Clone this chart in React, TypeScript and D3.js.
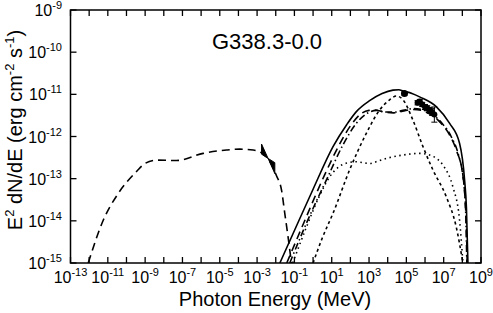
import React from 'react';
import * as d3 from 'd3';

// all values stored as log10(E / MeV) and log10(E^2 dN/dE / erg cm^-2 s^-1)
const syncX = [-12.05, -11.24, -10.44, -9.46, -9.01, -8.39, -7.32, -5.89, -4.64, -3.93, -3.21, -2.5, -1.96, -1.69, -1.52, -1.34, -1.16];
const syncY = [-15, -13.98, -13.35, -12.83, -12.64, -12.56, -12.57, -12.4, -12.32, -12.3, -12.32, -12.48, -12.93, -13.27, -13.81, -14.38, -15];

const totalX = [-1.78, -1.07, 0.0, 1.07, 1.8, 2.32, 3.03, 3.7, 4.28, 4.6, 4.82, 5.3, 5.71, 6.6, 7.32, 7.85, 8.12, 8.22, 8.3];
const totalY = [-15, -14.3, -13.25, -12.24, -11.72, -11.41, -11.15, -10.98, -10.9, -10.89, -10.92, -10.98, -11.06, -11.29, -11.69, -12.16, -13.03, -13.7, -15];

const icX = [-1.41, -0.5, 0.62, 1.4, 2.0, 2.6, 3.0, 3.3, 3.8, 4.3, 4.8, 5.3, 5.8, 6.3, 6.8, 7.3, 7.7, 8.0, 8.15, 8.22, 8.26];
const icY = [-15, -14.05, -12.91, -12.2, -11.75, -11.45, -11.38, -11.37, -11.42, -11.44, -11.4, -11.36, -11.38, -11.48, -11.66, -11.95, -12.35, -12.85, -13.5, -14.2, -15];

const dashDotX = [-1.25, -0.3, 0.8, 1.6, 2.3, 2.9, 3.4, 3.9, 4.4, 4.9, 5.4, 5.9, 6.4, 6.9, 7.4, 7.8, 8.05, 8.18, 8.24];
const dashDotY = [-15, -14.0, -12.95, -12.2, -11.7, -11.45, -11.38, -11.42, -11.42, -11.37, -11.34, -11.37, -11.48, -11.68, -12.0, -12.45, -13.0, -13.8, -15];

const bremsX = [-1.09, -0.4, 0.3, 0.9, 1.3, 1.8, 2.32, 3.03, 3.5, 3.93, 4.82, 5.71, 6.24, 6.96, 7.49, 7.85, 8.03];
const bremsY = [-15, -14.2, -13.45, -12.95, -12.75, -12.63, -12.6, -12.64, -12.58, -12.52, -12.44, -12.4, -12.44, -12.68, -13.19, -13.98, -15];

const pionX = [0.0, 0.5, 1.07, 1.96, 2.86, 3.57, 4.1, 4.46, 4.82, 5.35, 5.89, 6.42, 7.14, 7.67, 8.03];
const pionY = [-15, -14.4, -13.82, -12.79, -11.92, -11.37, -11.13, -11.04, -11.13, -11.61, -12.24, -12.79, -13.43, -14.14, -15];

// X-ray bowtie: left edge, pivot, right edge
const bowX = [-2.76, -2.41, -2.05];
const bowUpper = [-12.18, -12.52, -12.62];
const bowLower = [-12.42, -12.52, -12.88];

// gamma-ray points
const ptX = [4.9, 5.6, 5.72, 5.85, 6.0, 6.12, 6.25, 6.38, 6.5];
const ptY = [-10.98, -11.2, -11.17, -11.24, -11.3, -11.33, -11.38, -11.42, -11.48];
const ptErr = [0.04, 0.05, 0.05, 0.05, 0.06, 0.06, 0.07, 0.08, 0.18];

const xTickExps = d3.range(-13, 10);
const xLabelExps = d3.range(-13, 10, 2);
const yTickExps = d3.range(-15, -8);

const W = 493;
const H = 313;
const left = 70.5, right = 481, top = 10, bottom = 263;
const font = 'Liberation Sans, Arial, Helvetica, sans-serif';

const x = d3.scaleLinear().domain([-13, 9]).range([left, right]);
const y = d3.scaleLinear().domain([-15, -9]).range([bottom, top]);

const line = d3.line<[number, number]>()
  .x(d => x(d[0]))
  .y(d => y(d[1]))
  .curve(d3.curveMonotoneX);

const zip = (a: number[], b: number[]) => a.map((v, i) => [v, b[i]] as [number, number]);

const curves = [
  { xs: syncX, ys: syncY, dash: '8,5' },
  { xs: icX, ys: icY, dash: '8,5' },
  { xs: dashDotX, ys: dashDotY, dash: '7,3,1.5,3' },
  { xs: bremsX, ys: bremsY, dash: '1.5,3.5' },
  { xs: pionX, ys: pionY, dash: '3,3' },
  { xs: totalX, ys: totalY, dash: '' },
];

export default function App() {
  const bowPath = [
    [bowX[0], bowUpper[0]], [bowX[1], bowUpper[1]], [bowX[2], bowLower[2]],
    [bowX[2], bowUpper[2]], [bowX[1], bowLower[1]], [bowX[0], bowLower[0]],
  ].map(p => `${x(p[0])},${y(p[1])}`).join(' ');

  return (
    <svg width={W} height={H} style={{ position: 'absolute', left: 0, top: 0, background: '#fff' }}
      fontFamily={font}>
      <defs>
        <clipPath id="plot">
          <rect x={left} y={top} width={right - left} height={bottom - top} />
        </clipPath>
      </defs>
      <rect width={W} height={H} fill="#fff" />

      <g clipPath="url(#plot)" fill="none" stroke="#000" strokeWidth={1.6}>
        {curves.map((c, i) => (
          <path key={i} d={line(zip(c.xs, c.ys)) || ''} strokeDasharray={c.dash || undefined} />
        ))}
        <polygon points={bowPath} fill="#000" stroke="#000" strokeWidth={1} />
        {ptX.map((px, i) => (
          <g key={i}>
            <line x1={x(px)} x2={x(px)} y1={y(ptY[i] + ptErr[i])} y2={y(ptY[i] - ptErr[i])} strokeWidth={1} />
            <line x1={x(px) - 3} x2={x(px) + 3} y1={y(ptY[i] - ptErr[i])} y2={y(ptY[i] - ptErr[i])} strokeWidth={1} />
            <line x1={x(px) - 3} x2={x(px) + 3} y1={y(ptY[i] + ptErr[i])} y2={y(ptY[i] + ptErr[i])} strokeWidth={1} />
            <circle cx={x(px)} cy={y(ptY[i])} r={i === 0 ? 3.5 : 3} fill="#000" stroke="none" />
          </g>
        ))}
      </g>

      {/* frame and ticks */}
      <g stroke="#000" strokeWidth={1.3}>
        <rect x={left} y={top} width={right - left} height={bottom - top} fill="none" strokeWidth={1.5} />
        {xTickExps.map(e => (
          <g key={e}>
            <line x1={x(e)} x2={x(e)} y1={bottom} y2={bottom - 6} />
            <line x1={x(e)} x2={x(e)} y1={top} y2={top + 6} />
          </g>
        ))}
        {yTickExps.map(e => (
          <g key={e}>
            <line x1={left} x2={left + 6} y1={y(e)} y2={y(e)} />
            <line x1={right} x2={right - 6} y1={y(e)} y2={y(e)} />
          </g>
        ))}
      </g>

      {/* tick labels */}
      <g fill="#000">
        {xLabelExps.map(e => (
          <text key={e} x={x(e)} y={283} textAnchor="middle" fontSize={16}>
            <tspan>10</tspan>
            <tspan dy={-7} fontSize={11}>{e}</tspan>
          </text>
        ))}
        {yTickExps.map(e => (
          <text key={e} x={62} y={y(e) + 6} textAnchor="end" fontSize={16}>
            <tspan>10</tspan>
            <tspan dy={-7} fontSize={11}>{e}</tspan>
          </text>
        ))}
      </g>

      <text x={275} y={306} textAnchor="middle" fontSize={20}>Photon Energy (MeV)</text>

      <text transform={`translate(22,${130}) rotate(-90)`} textAnchor="middle" fontSize={20}>
        <tspan>E</tspan>
        <tspan dy={-8} fontSize={13}>2</tspan>
        <tspan dy={8}> dN/dE (erg cm</tspan>
        <tspan dy={-8} fontSize={13}>-2</tspan>
        <tspan dy={8}> s</tspan>
        <tspan dy={-8} fontSize={13}>-1</tspan>
        <tspan dy={8}>)</tspan>
      </text>

      <text x={212} y={49} fontSize={22}>G338.3-0.0</text>
    </svg>
  );
}
